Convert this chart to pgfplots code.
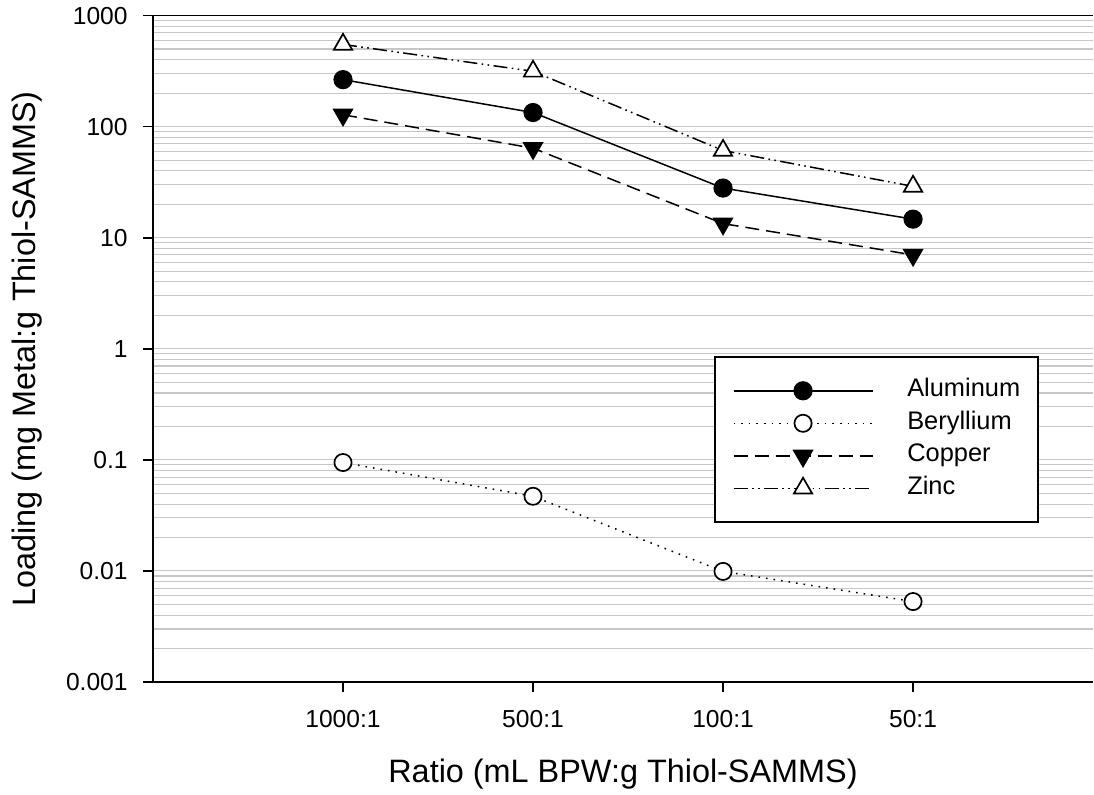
\documentclass[border=0pt]{standalone}
\usepackage{fontspec}
\setmainfont{Liberation Sans}
\usepackage{pgfplots}
\pgfplotsset{compat=1.18}

\pgfplotsset{
  series/.style={black, line width=0.75pt},
}

\begin{document}
\begin{tikzpicture}
\begin{axis}[
  scale only axis, width=470pt, height=333.2pt,
  ymode=log, ymin=0.001, ymax=1000,
  xmin=-1, xmax=3.947,
  xtick={0,1,2,3}, xticklabels={1000:1,500:1,100:1,50:1},
  ytick={0.001,0.01,0.1,1,10,100,1000},
  yticklabels={0.001,0.01,0.1,1,10,100,1000},
  axis x line*=box, axis y line*=left,
  xtick pos=left, ytick pos=left,
  tick align=outside, major tick length=5pt, minor tick length=0pt,
  axis line style={line width=0.8pt},
  every tick/.style={black, line width=0.8pt},
  ymajorgrids, yminorgrids,
  major grid style={black!22, line width=0.55pt},
  minor grid style={black!22, line width=0.55pt},
  tick label style={font=\fontsize{12.3}{14}\selectfont},
  yticklabel style={inner sep=0pt, xshift=-7.5pt},
  xticklabel style={yshift=-5.7pt},
  xlabel={Ratio (mL BPW:g Thiol-SAMMS)},
  ylabel={Loading (mg Metal:g Thiol-SAMMS)},
  every axis x label/.style={at={(rel axis cs:0.5,0)}, yshift=-50.5pt, anchor=base,
    font=\fontsize{16.2}{19}\selectfont},
  every axis y label/.style={at={(rel axis cs:-0.1255,0.5)}, rotate=90, anchor=base,
    font=\fontsize{16.2}{19}\selectfont},
  legend style={at={(rel axis cs:0.5968,0.4892)}, anchor=north west,
    draw=black, line width=0.8pt, fill=white, inner xsep=9pt, inner ysep=11.5pt,
    row sep=5.25pt, font=\fontsize{12.7}{15}\selectfont,
    nodes={inner sep=0pt, text height=8.5pt, text depth=2.5pt},
    /tikz/every odd column/.append style={column sep=17pt}},
  legend cell align=left,
  legend image code/.code={
    \draw[#1,mark repeat=2,mark phase=2] plot coordinates {(0pt,0pt) (34.75pt,0pt) (69.5pt,0pt)};
  },
]
\coordinate (O) at (rel axis cs:0,0);

\addplot[series, solid, mark=*, mark size=4.4pt,
  mark options={solid, line width=0.8pt, fill=black}]
  coordinates {(0,265) (1,134) (2,28) (3,14.7)};
\addlegendentry{Aluminum\hspace{4pt}}

\addplot[series, dash pattern=on 0.8pt off 3pt, mark=*, mark size=4.3pt,
  mark options={solid, line width=0.85pt, fill=white}]
  coordinates {(0,0.0946) (1,0.047) (2,0.0099) (3,0.0053)};
\addlegendentry{Beryllium}

\addplot[series, dash pattern=on 7pt off 3.5pt, mark=triangle*, mark size=5.3pt,
  mark options={solid, line width=0.8pt, fill=black, rotate=180}]
  coordinates {(0,128) (1,64) (2,13.4) (3,7.0)};
\addlegendentry{Copper}

\addplot[series, dash pattern=on 7pt off 2.2pt on 0.8pt off 2.2pt on 0.8pt off 2.2pt,
  mark=triangle*, mark size=5.3pt,
  mark options={solid, line width=0.85pt, fill=white}]
  coordinates {(0,550) (1,315) (2,61) (3,29)};
\addlegendentry{Zinc}
\end{axis}
\pgfresetboundingbox
\path[use as bounding box] (O) ++(-76.5pt,-56.5pt) rectangle ++(547pt,397.5pt);
\end{tikzpicture}
\end{document}
